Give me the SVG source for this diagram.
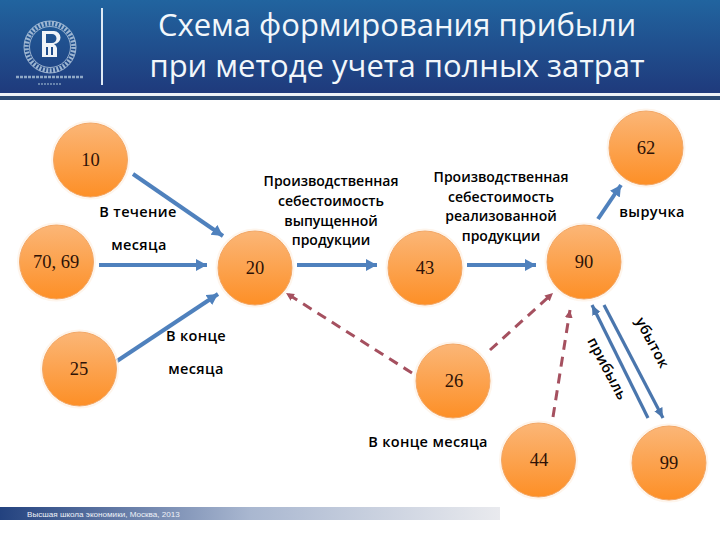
<svg xmlns="http://www.w3.org/2000/svg" width="720" height="540" viewBox="0 0 720 540">
<style>
.n{fill:url(#o);stroke:#f2a766;stroke-width:1}
.h{fill:none;stroke:#fef1e4;stroke-width:2;opacity:.7}
.v{font:18.5px "Liberation Serif",serif;fill:#2e1206;text-anchor:middle}
.l{font:600 14.5px "Open Sans",sans-serif;fill:#000;text-anchor:middle;letter-spacing:.35px}
.s{font:600 14px "Open Sans",sans-serif;fill:#000;text-anchor:middle}
.a{fill:none;stroke:#4f81bd;stroke-width:4;marker-end:url(#b)}
.a2{fill:none;stroke:#4a76ad;stroke-width:3.2;marker-end:url(#b2)}
.d{fill:none;stroke:#a5505f;stroke-width:3;stroke-dasharray:10 7;marker-end:url(#r)}
.t{font:31px "Open Sans",sans-serif;fill:#f2f7fb;text-anchor:middle}
</style>
<defs>
<linearGradient id="o" x1="0" y1="0" x2="0" y2="1"><stop offset="0" stop-color="#fbb677"/><stop offset="1" stop-color="#fd8f26"/></linearGradient>
<linearGradient id="hd" x1="0" y1="0" x2="0" y2="1"><stop offset="0" stop-color="#21649f"/><stop offset="1" stop-color="#1f3a7c"/></linearGradient>
<linearGradient id="ft" x1="0" y1="0" x2="1" y2="0"><stop offset="0" stop-color="#23427f"/><stop offset=".5" stop-color="#a9b7d0"/><stop offset="1" stop-color="#e9eaee"/></linearGradient>
<marker id="b" markerUnits="userSpaceOnUse" markerWidth="14" markerHeight="14" refX="11" refY="6" orient="auto"><path d="M0 0L11 6L0 12Z" fill="#4f81bd"/></marker>
<marker id="b2" markerUnits="userSpaceOnUse" markerWidth="12" markerHeight="12" refX="10" refY="4.5" orient="auto"><path d="M0 0L10 4.5L0 9Z" fill="#4a76ad"/></marker>
<marker id="r" markerUnits="userSpaceOnUse" markerWidth="10" markerHeight="10" refX="8" refY="4" orient="auto"><path d="M0 0L8 4L0 8Z" fill="#a5505f"/></marker>
</defs>
<rect width="720" height="540" fill="#fff"/>
<g id="header">
<rect width="720" height="93" fill="url(#hd)"/>
<rect y="93" width="720" height="3" fill="#eef2f7"/>
<rect y="96" width="720" height="4" fill="#2c4a74"/>
<rect x="101" y="8" width="2" height="77" fill="#dfeaf5"/>
<circle cx="50" cy="47" r="23.5" fill="none" stroke="#9db6d2" stroke-width="4.5" stroke-dasharray="2 1.5"/>
<circle cx="50" cy="47" r="26" fill="none" stroke="#b9cbe0" stroke-width=".8"/>
<circle cx="50" cy="47" r="20.5" fill="none" stroke="#b9cbe0" stroke-width=".8"/>
<path d="M42 31H54A6 6 0 0 1 54 44A6 6 0 0 1 57 48V57H42ZM46 34V43H52A4 4 0 0 0 52 34ZM46 47V55H48V47ZM51 47V55H53V47Z" fill="#f0f4f8" fill-rule="evenodd"/>
<path d="M16 77H84" stroke="#8fa8c6" stroke-width="2.5" stroke-dasharray="3 1"/>
<path d="M38 84H62" stroke="#7f9abc" stroke-width="1.5" stroke-dasharray="2 1"/>
<text class="t" x="397" y="36">Схема формирования прибыли</text>
<text class="t" x="397" y="77">при методе учета полных затрат</text>
</g>
<g id="footer">
<rect y="507" width="500" height="13" fill="url(#ft)"/>
<text x="27" y="517" font-family="Liberation Sans,sans-serif" font-size="8.1" fill="#eef2f8">Высшая школа экономики, Москва, 2013</text>
</g>
<g id="connectors">
<path class="a" d="M133 174L223 236"/>
<path class="a" d="M99 265H207"/>
<path class="a" d="M117 361L218 294"/>
<path class="a" d="M297 265H377"/>
<path class="a" d="M467 265H536"/>
<path class="a" d="M598 219L621 185"/>
<path class="a2" d="M648 418L592 305"/>
<path class="a2" d="M604 305L663 418"/>
<path class="d" d="M412 373L286 293"/>
<path class="d" d="M490 350L553 293"/>
<path class="d" d="M553 417L570 310"/>
</g>
<g id="labels">
<text class="l" x="138" y="217">В течение</text>
<text class="l" x="139" y="250">месяца</text>
<text class="s" x="331" y="186">Производственная</text>
<text class="s" x="331" y="206">себестоимость</text>
<text class="s" x="331" y="226">выпущенной</text>
<text class="s" x="331" y="245">продукции</text>
<text class="s" x="501" y="182">Производственная</text>
<text class="s" x="501" y="202">себестоимость</text>
<text class="s" x="501" y="221">реализованной</text>
<text class="s" x="501" y="241">продукции</text>
<text class="l" x="652" y="217">выручка</text>
<text class="l" x="196" y="341">В конце</text>
<text class="l" x="196" y="374">месяца</text>
<text class="l" x="428" y="447">В конце месяца</text>
<text class="l" transform="translate(648 345) rotate(62)">убыток</text>
<text class="l" transform="translate(603 371) rotate(62)">прибыль</text>
</g>
<g id="n10"><circle class="h" cx="90.5" cy="160" r="38.5"/><circle class="n" cx="90.5" cy="160" r="37"/><text class="v" x="90.5" y="166">10</text></g>
<g id="n7069"><circle class="h" cx="56.5" cy="262" r="38.5"/><circle class="n" cx="56.5" cy="262" r="37"/><text class="v" x="56" y="268">70, 69</text></g>
<g id="n25"><circle class="h" cx="79.5" cy="369" r="38.5"/><circle class="n" cx="79.5" cy="369" r="37"/><text class="v" x="79" y="375">25</text></g>
<g id="n20"><circle class="h" cx="255" cy="268" r="38.5"/><circle class="n" cx="255" cy="268" r="37"/><text class="v" x="255" y="274">20</text></g>
<g id="n43"><circle class="h" cx="425" cy="268" r="38.5"/><circle class="n" cx="425" cy="268" r="37"/><text class="v" x="425" y="274">43</text></g>
<g id="n90"><circle class="h" cx="584" cy="262" r="38.5"/><circle class="n" cx="584" cy="262" r="37"/><text class="v" x="584" y="268">90</text></g>
<g id="n62"><circle class="h" cx="646" cy="148" r="38.5"/><circle class="n" cx="646" cy="148" r="37"/><text class="v" x="646" y="154">62</text></g>
<g id="n26"><circle class="h" cx="453" cy="381" r="38.5"/><circle class="n" cx="453" cy="381" r="37"/><text class="v" x="454" y="387">26</text></g>
<g id="n44"><circle class="h" cx="538.5" cy="460" r="38.5"/><circle class="n" cx="538.5" cy="460" r="37"/><text class="v" x="539" y="466">44</text></g>
<g id="n99"><circle class="h" cx="669" cy="463" r="38.5"/><circle class="n" cx="669" cy="463" r="37"/><text class="v" x="669" y="469">99</text></g>
</svg>
